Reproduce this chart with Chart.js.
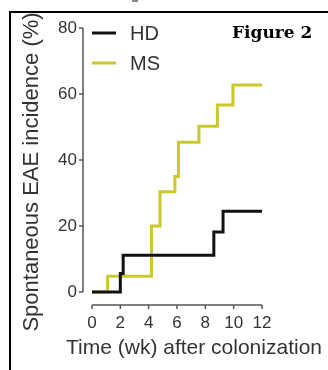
<!DOCTYPE html>
<html>
<head>
<meta charset="utf-8">
<title>Spontaneous EAE incidence</title>
<script src="https://cdn.jsdelivr.net/npm/chart.js@4/dist/chart.umd.min.js"></script>
<style>
  html, body { margin: 0; padding: 0; background: #fff; }
  #wrap { position: relative; width: 328px; height: 370px; overflow: hidden; }
  #chart { position: absolute; left: 0; top: 0; }
  #frame {
    position: absolute; left: 9px; top: 11px; right: -10px; bottom: -10px;
    border-left: 2px solid #000; border-top: 2px solid #000;
  }
  #mark { position: absolute; left: 132px; top: 0; width: 6px; height: 2px; background: #8a8a8a; }
</style>
</head>
<body>
<div id="wrap">
  <canvas id="chart" width="328" height="370"></canvas>
  <div id="frame"></div>
  <div id="mark"></div>
</div>
<script>
// Data (weeks after colonization, % incidence)
const hdWeeks = [0, 2.0, 2.2, 8.6, 9.25, 12];
const hdIncidence = [0, 5.6, 11.1, 18.2, 24.5, 24.5];
const msWeeks = [0, 1.1, 4.2, 4.8, 5.85, 6.1, 7.55, 8.85, 9.95, 12];
const msIncidence = [0, 4.8, 20, 30.4, 35, 45.4, 50.2, 56.7, 62.7, 62.7];
const xTicks = [0, 2, 4, 6, 8, 10, 12];
const yTicks = [0, 20, 40, 60, 80];
const seriesNames = ['HD', 'MS'];
const xTitle = 'Time (wk) after colonization';
const yTitle = 'Spontaneous EAE incidence (%)';
const figureLabel = 'Figure 2';

const SANS = '"Liberation Sans", Arial, sans-serif';
const TEXT = '#333333';
const AXIS = '#555555';

/**
 * Build point list for one series
 */
function toPoints(weeks, values) {
  return weeks.map((w, i) => ({ x: w, y: values[i] }));
}

/**
 * Prism style detached axes, legend and titles
 */
const prismDecor = {
  id: 'prismDecor',
  afterDraw(chart) {
    const { ctx, chartArea, scales } = chart;
    const xs = scales.x;
    const ys = scales.y;

    ctx.save();
    ctx.strokeStyle = AXIS;
    ctx.lineWidth = 1.5;

    // y axis, pulled left of the plot
    const axX = chartArea.left - 9;
    ctx.beginPath();
    ctx.moveTo(axX, ys.getPixelForValue(yTicks[yTicks.length - 1]));
    ctx.lineTo(axX, ys.getPixelForValue(yTicks[0]));
    yTicks.forEach((v) => {
      const py = ys.getPixelForValue(v);
      ctx.moveTo(axX, py);
      ctx.lineTo(axX - 4, py);
    });
    ctx.stroke();

    // x axis, pulled below the plot
    const axY = chartArea.bottom + 13;
    ctx.beginPath();
    ctx.moveTo(xs.getPixelForValue(xTicks[0]), axY);
    ctx.lineTo(xs.getPixelForValue(xTicks[xTicks.length - 1]), axY);
    xTicks.forEach((v) => {
      const px = xs.getPixelForValue(v);
      ctx.moveTo(px, axY);
      ctx.lineTo(px, axY + 4);
    });
    ctx.stroke();

    // legend
    chart.data.datasets.forEach((ds, i) => {
      const ly = 33 + i * 30;
      ctx.strokeStyle = ds.borderColor;
      ctx.lineWidth = 3;
      ctx.beginPath();
      ctx.moveTo(92, ly);
      ctx.lineTo(116, ly);
      ctx.stroke();
      ctx.fillStyle = TEXT;
      ctx.font = '20px ' + SANS;
      ctx.textAlign = 'left';
      ctx.textBaseline = 'middle';
      ctx.fillText(ds.label, 130, ly + 1);
    });

    // axis titles
    ctx.fillStyle = TEXT;
    ctx.font = '21px ' + SANS;
    ctx.textAlign = 'center';
    ctx.textBaseline = 'middle';
    ctx.fillText(xTitle, 194, 348);

    ctx.save();
    ctx.font = '22px ' + SANS;
    ctx.translate(32, 172);
    ctx.rotate(-Math.PI / 2);
    ctx.fillText(yTitle, 0, 0);
    ctx.restore();

    // figure label
    ctx.fillStyle = '#000';
    ctx.font = 'bold 17px "DejaVu Serif", serif';
    ctx.textAlign = 'left';
    ctx.textBaseline = 'alphabetic';
    ctx.fillText(figureLabel, 232, 38);

    ctx.restore();
  },
};

const chart = new Chart(document.getElementById('chart'), {
  type: 'line',
  data: {
    datasets: [
      {
        label: seriesNames[0],
        data: toPoints(hdWeeks, hdIncidence),
        borderColor: '#111111',
        borderWidth: 3,
        stepped: 'before',
        pointRadius: 0,
        fill: false,
        clip: 4,
      },
      {
        label: seriesNames[1],
        data: toPoints(msWeeks, msIncidence),
        borderColor: '#c9c92c',
        borderWidth: 3,
        stepped: 'before',
        pointRadius: 0,
        fill: false,
        clip: 4,
      },
    ],
  },
  options: {
    responsive: false,
    animation: false,
    layout: { padding: { top: 28, right: 66, left: 0, bottom: 0 } },
    plugins: {
      legend: { display: false },
      tooltip: { enabled: false },
    },
    scales: {
      x: {
        type: 'linear',
        min: 0,
        max: 12,
        afterFit: (s) => { s.height = 78; },
        afterBuildTicks: (s) => { s.ticks = xTicks.map((v) => ({ value: v })); },
        grid: { display: false, drawTicks: false },
        border: { display: false },
        ticks: {
          padding: 21,
          maxRotation: 0,
          autoSkip: false,
          color: TEXT,
          font: { family: SANS, size: 17 },
        },
      },
      y: {
        type: 'linear',
        min: 0,
        max: 80,
        afterFit: (s) => { s.width = 92; },
        afterBuildTicks: (s) => { s.ticks = yTicks.map((v) => ({ value: v })); },
        grid: { display: false, drawTicks: false },
        border: { display: false },
        ticks: {
          padding: 15,
          color: TEXT,
          font: { family: SANS, size: 17 },
        },
      },
    },
  },
  plugins: [prismDecor],
});
</script>
</body>
</html>
